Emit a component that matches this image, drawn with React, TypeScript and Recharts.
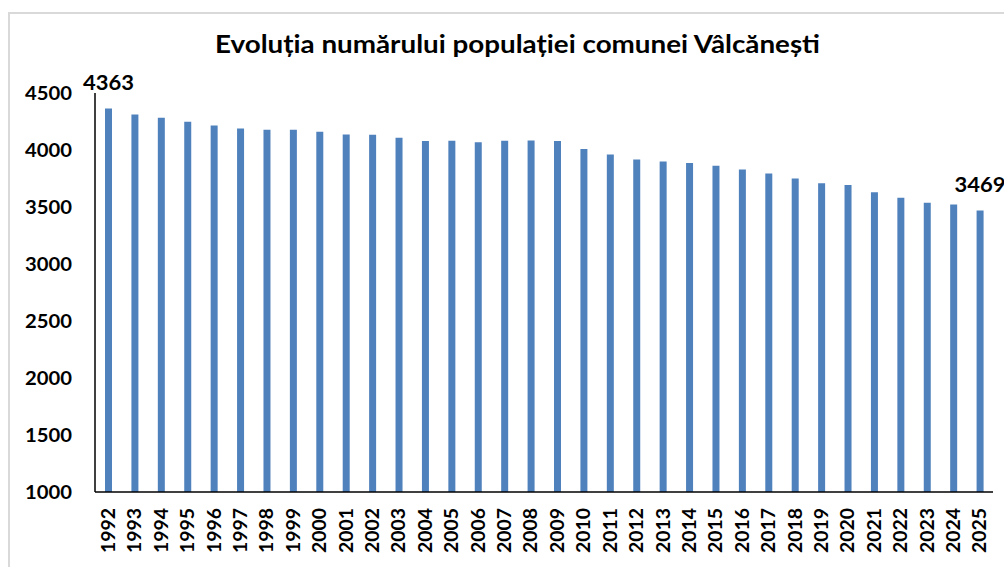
import { BarChart, Bar, XAxis, YAxis, LabelList } from 'recharts';

const years = [
  '1992', '1993', '1994', '1995', '1996', '1997', '1998', '1999', '2000', '2001', '2002', '2003',
  '2004', '2005', '2006', '2007', '2008', '2009', '2010', '2011', '2012', '2013', '2014', '2015',
  '2016', '2017', '2018', '2019', '2020', '2021', '2022', '2023', '2024', '2025',
];
const population = [
  4363, 4312, 4283, 4248, 4216, 4189, 4178, 4178, 4160, 4137, 4134, 4108,
  4078, 4081, 4069, 4081, 4084, 4078, 4008, 3961, 3917, 3900, 3885, 3862,
  3829, 3794, 3750, 3709, 3692, 3630, 3581, 3537, 3522, 3469,
];
const yTicks = [1000, 1500, 2000, 2500, 3000, 3500, 4000, 4500];

const TITLE = 'Evoluția numărului populației comunei Vâlcănești';
const FONT = 'Lato, "Open Sans", sans-serif';

const data = years.map((year, i) => ({ year, value: population[i] }));

// the original text is a bit wider than Lato, so stretch it with textLength
const YearTick = (props: any) => {
  const { x, y, payload } = props;
  return (
    <g transform={`translate(${x},${y + 16}) rotate(-90)`}>
      <text textAnchor="end" dy="0.36em" fontSize={18.5} fontWeight={700} fill="#000" fontFamily={FONT}
        textLength={45} lengthAdjust="spacingAndGlyphs">
        {payload.value}
      </text>
    </g>
  );
};

const ValueTick = (props: any) => {
  const { x, y, payload } = props;
  return (
    <text x={x} y={y} dy="0.36em" textAnchor="end" fontSize={18.5} fontWeight={700} fill="#000" fontFamily={FONT}
      textLength={47} lengthAdjust="spacingAndGlyphs">
      {payload.value}
    </text>
  );
};

// only the first and last bars carry a value label
const EndLabel = (props: any) => {
  const { x, y, width, value, index } = props;
  if (index !== 0 && index !== population.length - 1) return null;
  return (
    <text x={x + width / 2} y={y - 26} dy="0.36em" textAnchor="middle" fontSize={21.5} fontWeight={700} fill="#000" fontFamily={FONT}
      textLength={51} lengthAdjust="spacingAndGlyphs">
      {value}
    </text>
  );
};

export default function App() {
  return (
    <div
      style={{
        position: 'absolute', left: 8, top: 12, width: 996, height: 555,
        borderTop: '2px solid #d9d9d9', borderLeft: '2px solid #d9d9d9',
        overflow: 'hidden', background: '#fff', fontFamily: FONT,
      }}
    >
      <BarChart width={994} height={553} data={data} margin={{ top: 79, right: 11, left: 0, bottom: 0 }} barCategoryGap={0}>
        <XAxis
          dataKey="year"
          interval={0}
          height={75}
          tickLine={false}
          tickSize={0}
          tickMargin={0}
          tick={<YearTick />}
          axisLine={{ stroke: '#000', strokeWidth: 1.5 }}
        />
        <YAxis
          width={85}
          domain={[1000, 4500]}
          ticks={yTicks}
          allowDataOverflow
          tickLine={false}
          tickSize={0}
          tickMargin={23}
          axisLine={{ stroke: '#000', strokeWidth: 1.5 }}
          tick={<ValueTick />}
        />
        <Bar dataKey="value" fill="#4F81BD" barSize={7} isAnimationActive={false}>
          <LabelList dataKey="value" content={<EndLabel />} />
        </Bar>
      </BarChart>
      <svg width={994} height={70} style={{ position: 'absolute', left: 0, top: 0, pointerEvents: 'none' }}>
        <text x={205} y={39} fontSize={24.5} fontWeight={700} fill="#000" fontFamily={FONT}
          textLength={605} lengthAdjust="spacingAndGlyphs">
          {TITLE}
        </text>
      </svg>
    </div>
  );
}
